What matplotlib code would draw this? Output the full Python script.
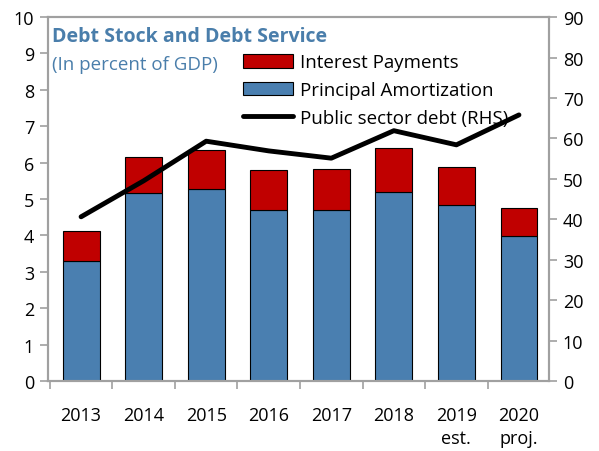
import matplotlib.pyplot as plt
import numpy as np

plt.rcParams['font.family'] = ['Open Sans', 'DejaVu Sans']

years = ['2013', '2014', '2015', '2016', '2017', '2018', '2019\nest.', '2020\nproj.']
principal = [3.30, 5.16, 5.27, 4.71, 4.71, 5.20, 4.84, 3.98]
interest = [0.81, 0.99, 1.09, 1.09, 1.12, 1.20, 1.03, 0.78]
public_debt = [40.6, 49.5, 59.3, 56.9, 55.1, 61.9, 58.4, 65.8]

blue = '#4a7fb0'
red = '#c00000'
grey = '#a0a0a0'
title_col = '#4a7eab'

fig = plt.figure(figsize=(5.99, 4.52), dpi=100)
ax = fig.add_axes([0.080, 0.155, 0.8365, 0.805])
x = np.arange(len(years))

ax.bar(x, principal, width=0.59, color=blue, edgecolor='black', linewidth=0.8,
       label='Principal Amortization', zorder=2)
ax.bar(x, interest, width=0.59, bottom=principal, color=red, edgecolor='black',
       linewidth=0.8, label='Interest Payments', zorder=2)

ax.set_xlim(-0.53, 7.48)
ax.set_ylim(0, 10)
ax.set_yticks(range(0, 11))
ax.set_xticks(x)
ax.set_xticklabels(years, fontsize=13, va='top', linespacing=1.35)
ax.set_xticks(np.arange(-0.5, 7.5, 1), minor=True)
ax.tick_params(axis='x', which='major', length=0, pad=18)
ax.tick_params(axis='x', which='minor', length=6, color=grey, width=1.2)
ax.tick_params(axis='y', length=6, color=grey, width=1.2, labelsize=13, pad=4)

ax2 = ax.twinx()
ax2.plot(x, public_debt, color='black', linewidth=3.5, solid_capstyle='round',
         label='Public sector debt (RHS)', zorder=3)
ax2.set_ylim(0, 90)
ax2.set_yticks(range(0, 91, 10))
ax2.tick_params(axis='y', length=6, color=grey, width=1.2, labelsize=13, pad=4)

for a in (ax, ax2):
    for s in a.spines.values():
        s.set_color(grey)
        s.set_linewidth(1.5)

h1, l1 = ax.get_legend_handles_labels()
h2, l2 = ax2.get_legend_handles_labels()
ax2.legend([h1[1], h1[0], h2[0]], [l1[1], l1[0], l2[0]], loc='upper left',
           bbox_to_anchor=(0.405, 0.880), bbox_transform=fig.transFigure,
           frameon=False, fontsize=13.5, borderpad=0,
           handlelength=2.7, handleheight=0.75, handletextpad=0.35,
           labelspacing=0.52, borderaxespad=0)

fig.text(0.087, 0.918, 'Debt Stock and Debt Service', fontsize=14,
         fontweight='bold', color=title_col, va='center')
fig.text(0.087, 0.857, '(In percent of GDP)', fontsize=13.5,
         color=title_col, va='center')

fig.savefig('out.png', dpi=100)
